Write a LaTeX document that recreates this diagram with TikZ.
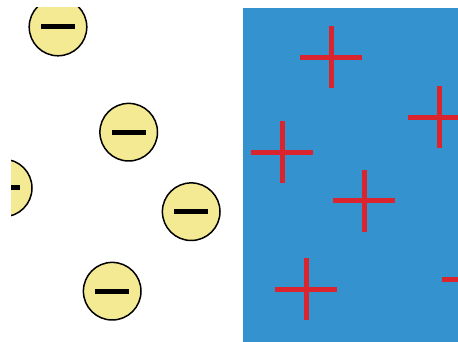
\documentclass[tikz,border=0pt]{standalone}
\usepackage{tikz}
\usepackage{xcolor}
\definecolor{seablue}{RGB}{52,146,206}
\definecolor{ionred}{RGB}{218,36,46}
\definecolor{ionyellow}{RGB}{244,234,148}

\begin{document}
\begin{tikzpicture}[x=1pt, y=1pt,
		anion/.style={draw=black, fill=ionyellow, line width=1.5pt},
		minusbar/.style={black, line width=5pt},
		plusbar/.style={ionred, line width=5pt}]
					\useasboundingbox (0,0) rectangle (458,342);
					\clip (11,0) rectangle (458,334);
					\fill[seablue] (243,0) rectangle (458,334);
					% negative side
					\draw[anion] (58,315) circle [radius=28.8];
					\draw[minusbar] (41,315)--(75,315);
					\draw[anion] (128.7,209.8) circle [radius=28.8];
					\draw[minusbar] (111.7,209.8)--(145.7,209.8);
					\draw[anion] (3.2,154) circle [radius=28.8];
					\draw[minusbar] (-13.8,154.5)--(20.2,154.5);
					\draw[anion] (191.2,130.3) circle [radius=28.8];
					\draw[minusbar] (174.2,130.3)--(208.2,130.3);
					\draw[anion] (112.2,50.8) circle [radius=28.8];
					\draw[minusbar] (95.2,50.8)--(129.2,50.8);
					% positive side
					\draw[plusbar] (300,284.5)--(362,284.5);
					\draw[plusbar] (331,253.5)--(331,315.5);
					\draw[plusbar] (408,224.5)--(470,224.5);
					\draw[plusbar] (439,193.5)--(439,255.5);
					\draw[plusbar] (251,189.5)--(313,189.5);
					\draw[plusbar] (282,158.5)--(282,220.5);
					\draw[plusbar] (333,141)--(395,141);
					\draw[plusbar] (364,110)--(364,172);
					\draw[plusbar] (275,52.5)--(337,52.5);
					\draw[plusbar] (306,21.5)--(306,83.5);
					\draw[plusbar] (442,62.7)--(504,62.7);
			\end{tikzpicture}
\end{document}
